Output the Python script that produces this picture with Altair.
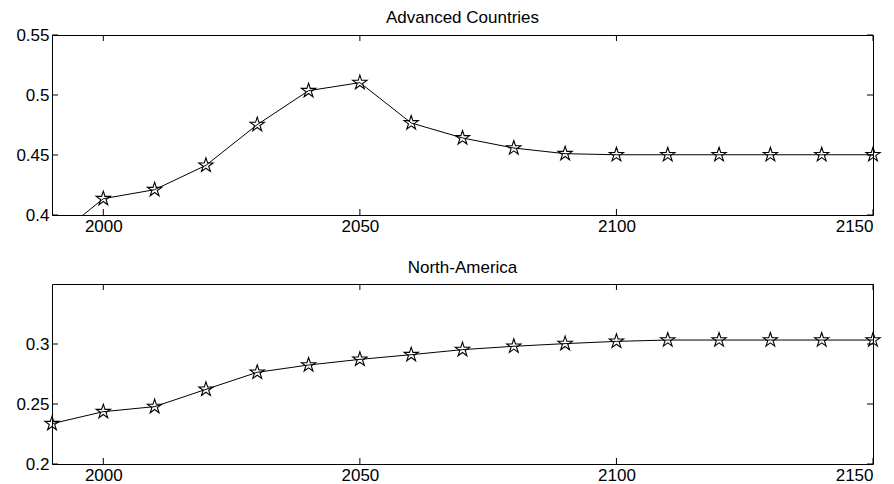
import altair as alt
import pandas as pd

years = list(range(1990, 2151, 10))
adv = [0.379, 0.4136, 0.4211, 0.4414, 0.4753, 0.5036, 0.5103, 0.4767, 0.4642,
       0.4558, 0.4511, 0.4502, 0.4502, 0.4502, 0.4502, 0.4502, 0.4502]
na = [0.2336, 0.2436, 0.2478, 0.2622, 0.2764, 0.2825, 0.2872, 0.2911, 0.2953,
      0.2981, 0.3003, 0.3022, 0.3033, 0.3033, 0.3033, 0.3033, 0.3033]

x_ticks = [2000, 2050, 2100, 2150]
adv_yticks = [0.4, 0.45, 0.5, 0.55]
na_yticks = [0.2, 0.25, 0.3]

STAR = ("M0,-1 L0.225,-0.309 L0.951,-0.309 L0.363,0.118 L0.588,0.809 L0,0.382 "
        "L-0.588,0.809 L-0.363,0.118 L-0.951,-0.309 L-0.225,-0.309 Z")

W, H = 821, 180
TL = 6
FONT = "Liberation Sans"


def panel(values, title, ydom, yticks, toff):
    df = pd.DataFrame({"year": years, "value": values})
    xs = alt.Scale(domain=[1990, 2150], nice=False, zero=False)
    ys = alt.Scale(domain=ydom, nice=False, zero=False)
    X = alt.X("year:Q", scale=xs, axis=alt.Axis(values=x_ticks, format="d", title=None))
    Y = alt.Y("value:Q", scale=ys, axis=alt.Axis(values=yticks, format="~g", title=None))

    line = alt.Chart(df).mark_line(color="black", strokeWidth=1, clip=True).encode(x=X, y=Y)
    pts = alt.Chart(df).transform_filter(
        (alt.datum.value >= ydom[0]) & (alt.datum.value <= ydom[1])
    ).mark_point(shape=STAR, size=225, stroke="black", strokeWidth=1.1, filled=False, opacity=1).encode(x=X, y=Y)

    xt = pd.DataFrame({"year": x_ticks})
    yt = pd.DataFrame({"value": yticks})
    xb = alt.Chart(xt).mark_rule(color="black", strokeWidth=1).encode(
        x=X, y=alt.value(H - TL), y2=alt.value(H))
    xtop = alt.Chart(xt).mark_rule(color="black", strokeWidth=1).encode(
        x=X, y=alt.value(0), y2=alt.value(TL))
    yl = alt.Chart(yt).mark_rule(color="black", strokeWidth=1).encode(
        y=Y, x=alt.value(0), x2=alt.value(TL))
    yr = alt.Chart(yt).mark_rule(color="black", strokeWidth=1).encode(
        y=Y, x=alt.value(W - TL), x2=alt.value(W))

    return alt.layer(xb, xtop, yl, yr, line, pts).properties(
        width=W, height=H,
        title=alt.TitleParams(title, anchor="middle", offset=toff),
    )


top = panel(adv, "Advanced Countries", [0.4, 0.55], adv_yticks, -1)
bottom = panel(na, "North-America", [0.2, 0.35], na_yticks, 7)

chart = alt.vconcat(top, bottom, spacing=23).properties(
    padding={"left": 7, "top": 0, "right": 0, "bottom": 0}
).configure_view(
    stroke="black", strokeWidth=1
).configure_axis(
    grid=False, domain=False, ticks=False,
    labelFont=FONT, labelFontSize=17, labelColor="black", labelPadding=3,
).configure_title(
    font=FONT, fontSize=17, fontWeight="normal", color="black",
)

chart.save("out.html", embed_options={"renderer": "svg", "actions": False})
